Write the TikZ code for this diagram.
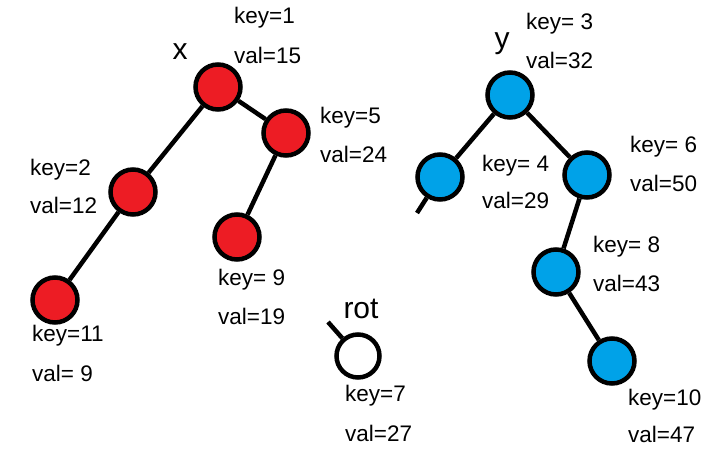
\documentclass[tikz,border=0pt]{standalone}
\usepackage{fontspec}
\setmainfont{Liberation Sans}
\usepackage{xcolor}
\usetikzlibrary{positioning}

\definecolor{paintred}{HTML}{ED1C24}
\definecolor{paintblue}{HTML}{00A2E8}

\begin{document}
\begin{tikzpicture}[
        x=1pt, y=-1pt,
        rnode/.style={circle, draw, fill=paintred, line width=4.5pt, minimum size=45pt, inner sep=0pt},
        bnode/.style={circle, draw, fill=paintblue, line width=4.5pt, minimum size=45pt, inner sep=0pt},
        wnode/.style={circle, draw, fill=white, line width=4.5pt, minimum size=43pt, inner sep=0pt},
        txt/.style={anchor=west, inner sep=0pt, font=\fontsize{22.5}{24}\selectfont},
        big/.style={inner sep=0pt, font=\fontsize{30}{32}\selectfont},
        line/.style={draw, line width=4.5pt}
    ]
        \useasboundingbox (0,0) rectangle (714,460);

        % left tree
        \node [rnode] (n1) at (218,87) {};
        \node [rnode] (n5) at (286,133) {};
        \node [rnode] (n2) at (133,192) {};
        \node [rnode] (n9) at (237,237) {};
        \node [rnode] (n11) at (55,300) {};

        \path [line] (n1) -- (n2);
        \path [line] (n1) -- (n5);
        \path [line] (n5) -- (n9);
        \path [line] (n2) -- (n11);

        % right tree
        \node [bnode] (n3) at (510,95) {};
        \node [bnode] (n4) at (440,177) {};
        \node [bnode] (n6) at (587,175) {};
        \node [bnode] (n8) at (556,272) {};
        \node [bnode] (n10) at (612,361) {};
        \coordinate (stub4) at (417,213);

        \path [line] (n3) -- (n4);
        \path [line] (n3) -- (n6);
        \path [line] (n6) -- (n8);
        \path [line] (n8) -- (n10);
        \path [line] (n4) -- (stub4);

        % rot
        \node [wnode] (n7) at (358,356) {};
        \coordinate (stub7) at (328,322);
        \path [line] (stub7) -- (n7);

        % names
        \node [big] (lx) at (180,52) {x};
        \node [big] (ly) at (502,44) {y};
        \node [big] (lrot) at (361,309) {rot};

        % keys and values
        \node [txt] (k1) at (234,18) {key=1};
        \node [txt] (v1) at (234,55) {val=15};
        \node [txt] (k5) at (320,118) {key=5};
        \node [txt] (v5) at (320,154) {val=24};
        \node [txt] (k2) at (30,170) {key=2};
        \node [txt] (v2) at (30,205) {val=12};
        \node [txt] (k9) at (218,280) {key= 9};
        \node [txt] (v9) at (218,316) {val=19};
        \node [txt] (k11) at (32,336) {key=11};
        \node [txt] (v11) at (32,373) {val= 9};
        \node [txt] (k7) at (345,396) {key=7};
        \node [txt] (v7) at (345,433) {val=27};
        \node [txt] (k3) at (526,24) {key= 3};
        \node [txt] (v3) at (526,60) {val=32};
        \node [txt] (k4) at (482,166) {key= 4};
        \node [txt] (v4) at (482,200) {val=29};
        \node [txt] (k6) at (630,147) {key= 6};
        \node [txt] (v6) at (630,183) {val=50};
        \node [txt] (k8) at (593,247) {key= 8};
        \node [txt] (v8) at (593,283) {val=43};
        \node [txt] (k10) at (628,400) {key=10};
        \node [txt] (v10) at (628,434) {val=47};
    \end{tikzpicture}
\end{document}
